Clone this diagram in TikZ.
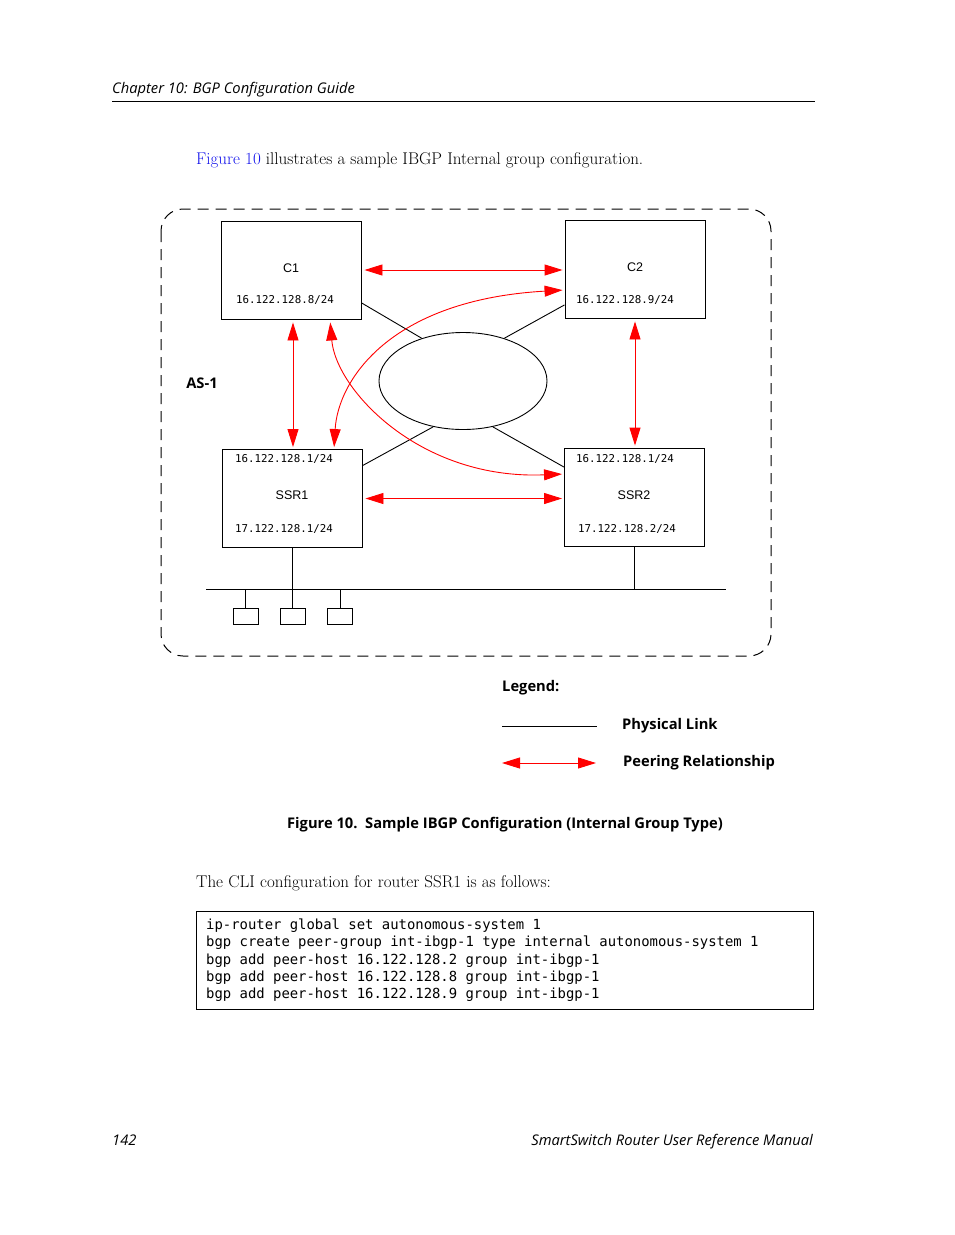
\documentclass[tikz,border=0pt]{standalone}
\usepackage{fontspec}
\usepackage{xcolor}
\usetikzlibrary{arrows.meta, shapes.geometric}
\newfontfamily\hdfont{Open Sans}
\newfontfamily\boxfont{Liberation Sans}
\newfontfamily\monofont{DejaVu Sans Mono}
\definecolor{linkblue}{RGB}{20,20,235}

\begin{document}
\begin{tikzpicture}[x=1pt, y=-1pt,
  router/.style={draw, line width=0.9pt, minimum width=140pt, minimum height=98pt, inner sep=0pt},
  host/.style={draw, line width=0.9pt, minimum width=25pt, minimum height=16pt, inner sep=0pt},
  phys/.style={line width=0.9pt},
  peer/.style={red, line width=0.9pt, {Triangle[length=18pt,width=11pt]}-{Triangle[length=18pt,width=11pt]}},
  ip/.style={font=\monofont\fontsize{10.8}{12}\selectfont, inner sep=0pt},
  rname/.style={font=\boxfont\fontsize{12.5}{14}\selectfont, inner sep=0pt},
  lbl/.style={font=\hdfont\bfseries\fontsize{14.7}{16}\selectfont, inner sep=0pt},
  itl/.style={font=\hdfont\itshape\fontsize{14.7}{16}\selectfont, inner sep=0pt},
  body/.style={font=\fontsize{17}{20}\selectfont, inner sep=0pt},
  code/.style={font=\monofont\fontsize{13.9}{16}\selectfont, inner sep=0pt, anchor=base west}
]
\useasboundingbox (0,0) rectangle (954,1235);

% page header
\node[itl, anchor=base west] (chap) at (112,93) {Chapter 10: BGP Configuration Guide};
\coordinate (ruleL) at (112,101);
\coordinate (ruleR) at (815,101);
\draw[line width=0.9pt] (ruleL) -- (ruleR);

\node[body, anchor=base west] (intro) at (196,164) {\textcolor{linkblue}{Figure 10} illustrates a sample IBGP Internal group configuration.};

% AS boundary
\draw[dashed, dash pattern=on 11pt off 7pt, line width=1pt, rounded corners=22pt] (161,209) rectangle (771,656);
\node[lbl] (as) at (202,383) {AS-1};

% routers
\node[router] (C1) at (291,270) {};
\node[router] (C2) at (635,269) {};
\node[router] (SSR1) at (292,498.5) {};
\node[router] (SSR2) at (634.5,497) {};

\node[rname] (C1name) at (291,268) {C1};
\node[ip] (C1ip) at (285,300) {16.122.128.8/24};
\node[rname] (C2name) at (635,267) {C2};
\node[ip] (C2ip) at (625,300) {16.122.128.9/24};
\node[ip] (SSR1top) at (284,459) {16.122.128.1/24};
\node[rname] (SSR1name) at (292,495) {SSR1};
\node[ip] (SSR1bot) at (284,529) {17.122.128.1/24};
\node[ip] (SSR2top) at (625,459) {16.122.128.1/24};
\node[rname] (SSR2name) at (634,495) {SSR2};
\node[ip] (SSR2bot) at (627,529) {17.122.128.2/24};

% network cloud
\node[ellipse, draw, line width=0.9pt, minimum width=168pt, minimum height=97pt, inner sep=0pt] (core) at (463,381) {};

\draw[phys] (C1.-25) -- (core.134);
\draw[phys] (C2.207) -- (core.46);
\draw[phys] (SSR1.25) -- (core.237);
\draw[phys] (SSR2.157) -- (core.-57);

% peering
\draw[peer, shorten <=3pt, shorten >=2pt] (C1.east) -- (C1.east -| C2.west);
\draw[peer, shorten <=3pt, shorten >=2pt] (SSR1.east) -- (SSR1.east -| SSR2.west);
\draw[peer, shorten <=3pt, shorten >=2pt] ([xshift=2pt]C1.south) -- ([xshift=2pt]C1.south |- SSR1.north);
\draw[peer, shorten <=3pt, shorten >=2pt] (C2.south) -- (C2.south |- SSR2.north);
\draw[peer, shorten <=2pt, shorten >=2pt] ([xshift=42pt]SSR1.north) .. controls (338,380) and (390,300) .. ([yshift=-21pt]C2.west);
\draw[peer, shorten <=3pt, shorten >=2pt] ([xshift=39pt]C1.south) .. controls (336,390) and (420,480) .. ([yshift=23pt]SSR2.west);

% LAN
\coordinate (busL) at (206,589);
\coordinate (busR) at (726,589);
\draw[phys] (busL) -- (busR);
\draw[phys] (SSR1.south) -- (SSR1.south |- busL);
\draw[phys] (SSR2.south) -- (SSR2.south |- busL);
\foreach \x [count=\i] in {245.5,292.5,340}{
  \node[host] (h\i) at (\x,616) {};
  \draw[phys] (h\i.north) -- (h\i.north |- busL);
}

% legend
\node[lbl, anchor=west] (leg) at (502,688) {Legend:};
\coordinate (physL) at (502,726);
\coordinate (physR) at (597,726);
\draw[phys] (physL) -- (physR);
\node[lbl, anchor=west] (phystxt) at (622,726) {Physical Link};
\coordinate (peerL) at (502,763);
\coordinate (peerR) at (596,763);
\draw[peer] (peerL) -- (peerR);
\node[lbl, anchor=west] (peertxt) at (623,763) {Peering Relationship};

% caption
\node[lbl, anchor=base] (cap) at (505,828) {Figure 10.\ \ Sample IBGP Configuration (Internal Group Type)};

\node[body, anchor=base west] (cli) at (196,887) {The CLI configuration for router SSR1 is as follows:};

% config listing
\draw[line width=0.9pt] (196,911) rectangle (813,1009);
\foreach \txt [count=\i] in {ip-router global set autonomous-system 1,
  bgp create peer-group int-ibgp-1 type internal autonomous-system 1,
  bgp add peer-host 16.122.128.2 group int-ibgp-1,
  bgp add peer-host 16.122.128.8 group int-ibgp-1,
  bgp add peer-host 16.122.128.9 group int-ibgp-1}{
  \node[code] (code\i) at (206,{929.5+17.3*(\i-1)}) {\txt};
}

% page footer
\node[itl, anchor=base west] (pgno) at (112,1145) {142};
\node[itl, anchor=base east] (book) at (813,1145) {SmartSwitch Router User Reference Manual};
\end{tikzpicture}
\end{document}
